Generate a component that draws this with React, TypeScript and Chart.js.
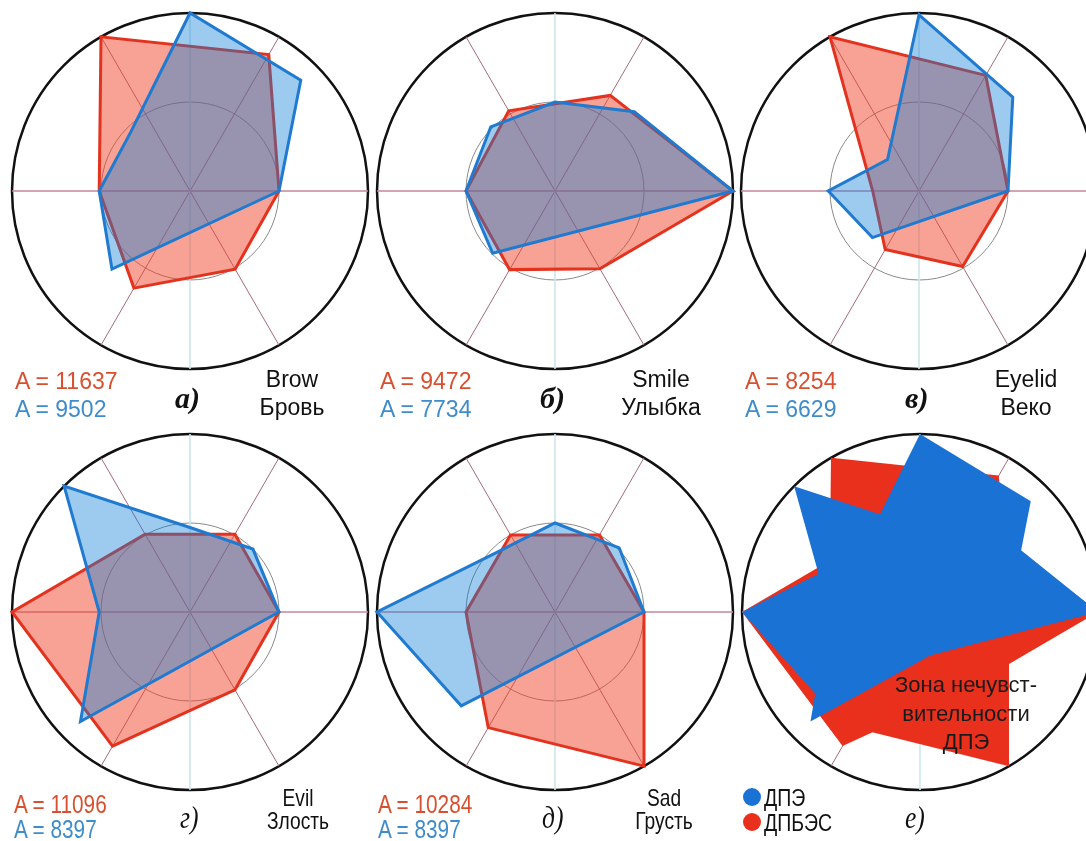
import React, { useEffect, useRef } from 'react';
import { Chart, registerables } from 'chart.js';

Chart.register(...registerables);

// ---- axis layout: 48 directions, 7.5° apart (common grid for 60° and 45° sensors)
const STEP = 7.5;
const N = 48;
const LABELS = Array.from({ length: N }, (_, i) => `${i * STEP}°`);

// sensor directions (math angle, counter-clockwise from the right)
const RED_ANGLES = [0, 60, 120, 180, 240, 300];
const BLUE_ANGLES = [0, 45, 90, 135, 180, 225];

// ---- values (fraction of the outer circle)
const redBrow = [0.5, 0.885, 1.0, 0.51, 0.63, 0.507];
const blueBrow = [0.5, 0.88, 1.0, 0.47, 0.51, 0.62];
const redSmile = [1.0, 0.62, 0.52, 0.5, 0.51, 0.505];
const blueSmile = [1.0, 0.63, 0.5, 0.51, 0.5, 0.495];
const redEyelid = [0.5, 0.75, 1.0, 0.26, 0.38, 0.49];
const blueEyelid = [0.5, 0.745, 0.99, 0.25, 0.51, 0.37];
const redEvil = [0.5, 0.505, 0.505, 1.0, 0.87, 0.505];
const blueEvil = [0.5, 0.5, 0.475, 1.0, 0.51, 0.87];
const redSad = [0.5, 0.5, 0.5, 0.5, 0.75, 1.0];
const blueSad = [0.5, 0.51, 0.5, 0.47, 1.0, 0.745];

const areaRed = ['A = 11637', 'A = 9472', 'A = 8254', 'A = 11096', 'A = 10284'];
const areaBlue = ['A = 9502', 'A = 7734', 'A = 6629', 'A = 8397', 'A = 8397'];
const namesEn = ['Brow', 'Smile', 'Eyelid', 'Evil', 'Sad'];
const namesRu = ['Бровь', 'Улыбка', 'Веко', 'Злость', 'Грусть'];
const letters = ['а)', 'б)', 'в)', 'г)', 'д)', 'е)'];
const legendNames = ['ДПЭ', 'ДПБЭС'];
const zoneText = ['Зона нечувст-', 'вительности', 'ДПЭ'];

const RED_LINE = '#e3321e';
const RED_FILL = 'rgba(242,70,45,0.5)';
const BLUE_LINE = '#1f7ad0';
const BLUE_FILL = 'rgba(10,125,215,0.4)';
const RED_SOLID = '#e8301c';
const BLUE_SOLID = '#1a72d4';

function toSeries(angles: number[], values: number[]) {
  const arr: (number | null)[] = new Array(N).fill(null);
  angles.forEach((a, i) => {
    const idx = Math.round(((360 - a) % 360) / STEP);
    arr[idx] = values[i];
  });
  return arr;
}

const PAD = 10;
const SIZE = 376;
const HALF = SIZE / 2;

function angleColor(i: number) {
  if (i === 0 || i === 24) return '#c4879b';
  if (i === 12 || i === 36) return '#cde7ec';
  if (i === 8 || i === 16 || i === 32 || i === 40) return '#a36b79';
  return 'rgba(0,0,0,0)';
}
function angleWidth(i: number) {
  if (i === 0 || i === 24 || i === 12 || i === 36) return 1.6;
  if (i === 8 || i === 16 || i === 32 || i === 40) return 1;
  return 0;
}

function RadarPanel({ cx, cy, datasets }: { cx: number; cy: number; datasets: any[] }) {
  const ref = useRef<HTMLCanvasElement>(null);
  useEffect(() => {
    if (!ref.current) return;
    const chart = new Chart(ref.current, {
      type: 'radar',
      data: { labels: LABELS, datasets },
      options: {
        responsive: false,
        animation: false,
        layout: { padding: PAD },
        plugins: { legend: { display: false }, tooltip: { enabled: false } },
        elements: { point: { radius: 0, hoverRadius: 0 }, line: { tension: 0 } },
        scales: {
          r: {
            min: 0,
            max: 1,
            startAngle: 90,
            ticks: { display: false, stepSize: 0.5 },
            pointLabels: { display: false },
            grid: {
              circular: true,
              color: (c: any) => (c.index === 2 ? '#111111' : '#8a8a8a'),
              lineWidth: (c: any) => (c.index === 2 ? 2.5 : 1),
            },
            angleLines: {
              display: true,
              color: (c: any) => angleColor(c.index),
              lineWidth: (c: any) => angleWidth(c.index),
            },
          },
        },
      } as any,
    });
    return () => chart.destroy();
  }, []);
  return (
    <canvas
      ref={ref}
      width={SIZE}
      height={SIZE}
      style={{ position: 'absolute', left: cx - HALF, top: cy - HALF, width: SIZE, height: SIZE }}
    />
  );
}

function pair(red: number[], blue: number[]) {
  return [
    {
      data: toSeries(BLUE_ANGLES, blue),
      borderColor: BLUE_LINE,
      backgroundColor: BLUE_FILL,
      borderWidth: 3,
      fill: 'origin',
      spanGaps: true,
      clip: false,
    },
    {
      data: toSeries(RED_ANGLES, red),
      borderColor: RED_LINE,
      backgroundColor: RED_FILL,
      borderWidth: 3,
      fill: 'origin',
      spanGaps: true,
      clip: false,
    },
  ];
}

const allRed = [redBrow, redSmile, redEyelid, redEvil, redSad];
const allBlue = [blueBrow, blueSmile, blueEyelid, blueEvil, blueSad];

function unionSets() {
  const blue = allBlue.map((v) => ({
    data: toSeries(BLUE_ANGLES, v),
    borderWidth: 0,
    borderColor: BLUE_SOLID,
    backgroundColor: BLUE_SOLID,
    fill: 'origin',
    spanGaps: true,
  }));
  const red = allRed.map((v) => ({
    data: toSeries(RED_ANGLES, v),
    borderWidth: 0,
    borderColor: RED_SOLID,
    backgroundColor: RED_SOLID,
    fill: 'origin',
    spanGaps: true,
  }));
  return [...blue, ...red];
}

const SANS = '"Liberation Sans", Arial, sans-serif';
const SERIF = '"Liberation Serif", "Times New Roman", serif';

function Txt({ x, y, size, color = '#111', children, style = {} }: any) {
  return (
    <div
      style={{
        position: 'absolute',
        left: x,
        top: y,
        fontSize: size,
        lineHeight: 1,
        color,
        fontFamily: SANS,
        whiteSpace: 'nowrap',
        zIndex: 2,
        ...style,
      }}
    >
      {children}
    </div>
  );
}

const RED_TXT = '#d8502f';
const BLUE_TXT = '#3f8ccb';

export default function App() {
  useEffect(() => {
    document.body.style.margin = '0';
    document.body.style.background = '#fff';
  }, []);

  const centers = [
    [190, 191],
    [555, 191],
    [919, 191],
    [190, 612],
    [555, 612],
    [920, 612],
  ];
  const sets = [
    pair(redBrow, blueBrow),
    pair(redSmile, blueSmile),
    pair(redEyelid, blueEyelid),
    pair(redEvil, blueEvil),
    pair(redSad, blueSad),
    unionSets(),
  ];

  // text placement per panel
  const numX = [15, 380, 745, 14, 378];
  const nameCx = [292, 661, 1026, 298, 664];
  const letterX = [175, 540, 905, 180, 542, 905];

  return (
    <div style={{ position: 'relative', width: 1086, height: 841, overflow: 'hidden', background: '#fff' }}>
      {centers.map(([cx, cy], i) => (
        <RadarPanel key={i} cx={cx} cy={cy} datasets={sets[i]} />
      ))}

      {[0, 1, 2].map((i) => (
        <React.Fragment key={'r1' + i}>
          <Txt x={numX[i]} y={370} size={23} color={RED_TXT}>{areaRed[i]}</Txt>
          <Txt x={numX[i]} y={398} size={23} color={BLUE_TXT}>{areaBlue[i]}</Txt>
          <Txt x={nameCx[i] - 60} y={368} size={23} style={{ width: 120, textAlign: 'center' }}>{namesEn[i]}</Txt>
          <Txt x={nameCx[i] - 60} y={396} size={23} style={{ width: 120, textAlign: 'center' }}>{namesRu[i]}</Txt>
          <Txt x={letterX[i]} y={383} size={30} style={{ fontFamily: SERIF, fontStyle: 'italic', fontWeight: 'bold' }}>{letters[i]}</Txt>
        </React.Fragment>
      ))}

      {[3, 4].map((i) => (
        <React.Fragment key={'r2' + i}>
          <Txt x={numX[i]} y={791} size={26} color={RED_TXT} style={{ transform: 'scaleX(0.8)', transformOrigin: 'left top' }}>{areaRed[i]}</Txt>
          <Txt x={numX[i]} y={816} size={26} color={BLUE_TXT} style={{ transform: 'scaleX(0.8)', transformOrigin: 'left top' }}>{areaBlue[i]}</Txt>
          <Txt x={nameCx[i] - 60} y={786} size={24} style={{ width: 120, textAlign: 'center', transform: 'scaleX(0.8)' }}>{namesEn[i]}</Txt>
          <Txt x={nameCx[i] - 60} y={809} size={24} style={{ width: 120, textAlign: 'center', transform: 'scaleX(0.8)' }}>{namesRu[i]}</Txt>
          <Txt x={letterX[i]} y={801} size={32} style={{ fontFamily: SERIF, fontStyle: 'italic', transform: 'scaleX(0.8)', transformOrigin: 'left top' }}>{letters[i]}</Txt>
        </React.Fragment>
      ))}

      <Txt x={letterX[5]} y={801} size={32} style={{ fontFamily: SERIF, fontStyle: 'italic', transform: 'scaleX(0.8)', transformOrigin: 'left top' }}>{letters[5]}</Txt>

      {/* legend */}
      <div style={{ position: 'absolute', left: 743, top: 788, width: 18, height: 18, borderRadius: 9, background: BLUE_SOLID, zIndex: 2 }} />
      <div style={{ position: 'absolute', left: 743, top: 813, width: 18, height: 18, borderRadius: 9, background: RED_SOLID, zIndex: 2 }} />
      <Txt x={764} y={787} size={23} style={{ transform: 'scaleX(0.85)', transformOrigin: 'left top' }}>{legendNames[0]}</Txt>
      <Txt x={764} y={812} size={23} style={{ transform: 'scaleX(0.85)', transformOrigin: 'left top' }}>{legendNames[1]}</Txt>

      {/* insensitivity zone note */}
      <div
        style={{
          position: 'absolute',
          left: 866,
          top: 671,
          width: 200,
          textAlign: 'center',
          fontFamily: SANS,
          fontSize: 22,
          lineHeight: '28.5px',
          color: '#1a1a1a',
          zIndex: 2,
        }}
      >
        {zoneText.map((t, i) => (
          <div key={i}>{t}</div>
        ))}
      </div>
    </div>
  );
}
